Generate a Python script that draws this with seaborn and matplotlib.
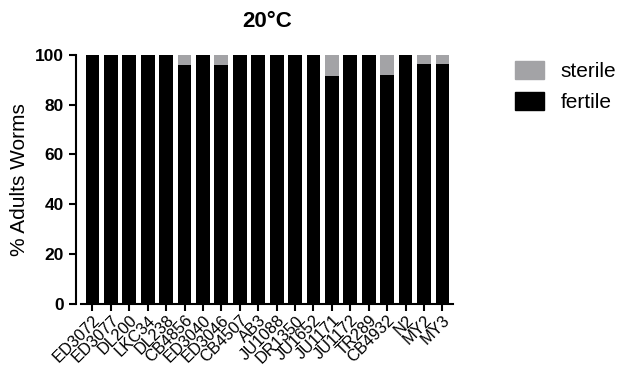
import pandas as pd
import matplotlib.pyplot as plt
import seaborn as sns
from matplotlib.patches import Patch

# === Data ===
strains = ["ED3072", "ED3077", "DL200", "LKC34", "DL238", "CB4856", "ED3040",
           "ED3046", "CB4507", "AB3", "JU1088", "DR1350", "JU1652", "JU1171",
           "JU1172", "TR289", "CB4932", "N2", "MY2", "MY3"]
fertile = [100, 100, 100, 100, 100, 96, 100, 96, 100, 100, 100, 100, 100, 91.5,
           100, 100, 92, 100, 96.5, 96.5]
sterile = [100 - f for f in fertile]

df = pd.DataFrame({"strain": strains, "fertile": fertile, "sterile": sterile})
df["total"] = df["fertile"] + df["sterile"]

sns.set_style("ticks")
plt.rcParams["font.family"] = ["Liberation Sans", "DejaVu Sans"]
plt.rcParams.update({"text.color": "black", "axes.labelcolor": "black",
                     "xtick.color": "black", "ytick.color": "black",
                     "axes.edgecolor": "black"})

fig = plt.figure(figsize=(6.36, 3.66), dpi=100)
ax = fig.add_axes([0.128, 0.17, 0.585, 0.68])

# stacked bars: full height in grey, fertile part in black on top
sns.barplot(data=df, x="strain", y="total", color="#a3a3a6", width=0.75,
            saturation=1, linewidth=0, ax=ax)
sns.barplot(data=df, x="strain", y="fertile", color="black", width=0.75,
            saturation=1, linewidth=0, ax=ax)

sns.despine(ax=ax)
for s in ["left", "bottom"]:
    ax.spines[s].set_linewidth(1.5)
ax.spines["left"].set_position(("outward", 4))

ax.set_ylim(0, 100)
ax.set_xlim(-0.6, len(strains) - 0.4)
ax.set_xlabel("")
ax.set_ylabel("% Adults Worms", fontsize=15)
ax.set_title("20°C", fontsize=16, fontweight="bold", pad=20)
ax.set_xticks(range(len(strains)))
ax.set_xticklabels(strains, rotation=45, ha="right", rotation_mode="anchor",
                   fontsize=11.8)
yt = [0, 20, 40, 60, 80, 100]
ax.set_yticks(yt)
ax.set_yticklabels([str(v) for v in yt], fontsize=12.5, fontweight="bold")
ax.tick_params(axis="both", width=1.5, length=5)
ax.tick_params(axis="x", pad=1.5)

handles = [Patch(color="#a3a3a6", label="sterile"),
           Patch(color="black", label="fertile")]
fig.legend(handles=handles, loc="upper left", bbox_to_anchor=(0.78, 0.885),
           frameon=False, fontsize=15, handlelength=1.4, handleheight=1.0)

plt.savefig("out.png", dpi=100)
